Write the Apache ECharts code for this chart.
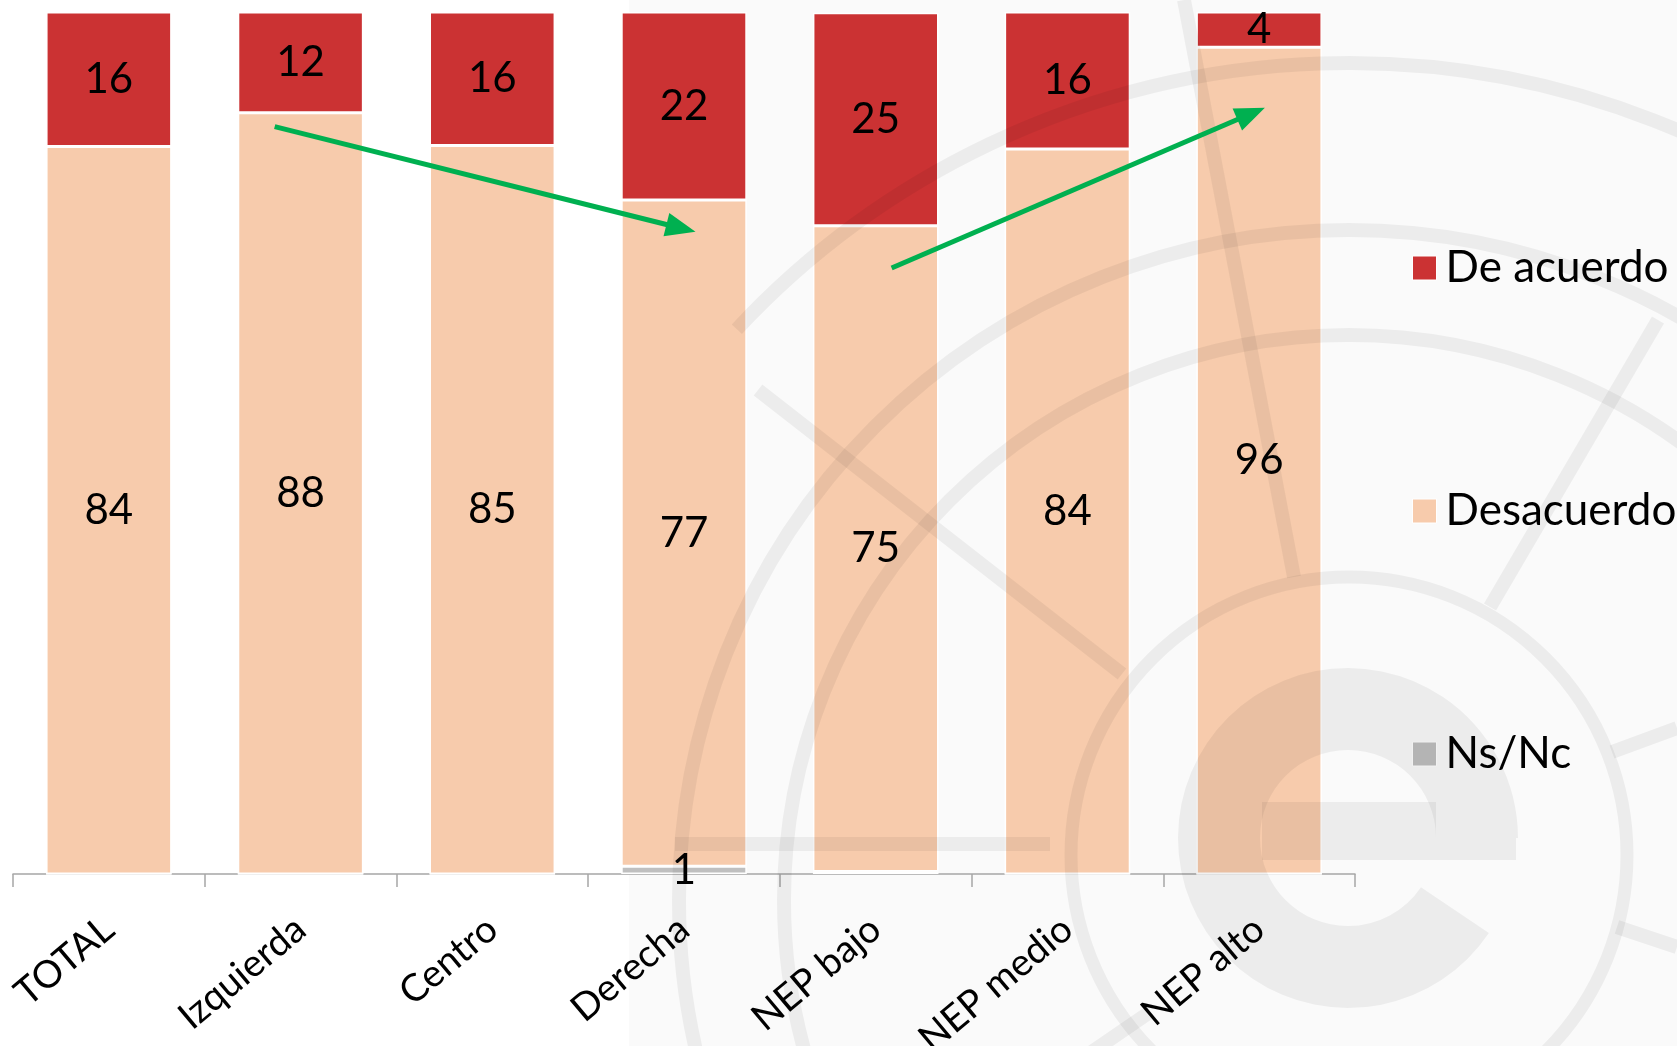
<!DOCTYPE html>
<html><head><meta charset="utf-8">
<script src="https://cdn.jsdelivr.net/npm/echarts@6/dist/echarts.min.js"></script>
<style>html,body{margin:0;padding:0;background:#fff}#c{width:1677px;height:1046px}</style>
</head><body><div id="c"></div>
<script>
// ---- data ----
const categories = ['TOTAL', 'Izquierda', 'Centro', 'Derecha', 'NEP bajo', 'NEP medio', 'NEP alto'];
const deAcuerdo  = [15.6, 11.7, 15.5, 21.8, 24.7, 15.9, 4.1];
const desacuerdo = [84.4, 88.3, 84.5, 77.3, 74.9, 84.1, 95.9];
const nsnc       = [0, 0, 0, 0.9, 0.3, 0, 0];
const seriesNames = ['De acuerdo', 'Desacuerdo', 'Ns/Nc'];
// annotation arrows: [from category index, from value, to category index, to value]
const arrow1 = [0.865, 86.7, 3.06, 74.5];
const arrow2 = [4.083, 70.3, 6.03, 88.9];

const COL_RED = '#CB3233', COL_PEACH = '#F7CBAC', COL_GRAY = '#BFBFBF';
const FONT = 'Lato';

const chart = echarts.init(document.getElementById('c'), null, {renderer: 'canvas'});

const labelCfg = {
  show: true, position: 'inside', color: '#000', fontFamily: FONT, fontSize: 42,
  formatter: p => (p.value >= 0.5 ? String(Math.round(p.value)) : '')
};
const barCommon = {
  type: 'bar', stack: 'total', barCategoryGap: '34.5%',
  itemStyle: {borderColor: '#ffffff', borderWidth: 1.5},
  label: labelCfg, emphasis: {disabled: true}
};

chart.setOption({
  animation: false,
  backgroundColor: '#ffffff',
  grid: {left: 13, right: 322, top: 12, bottom: 172, containLabel: false, outerBoundsMode: 'none'},
  legend: {
    orient: 'vertical', left: 1407, top: 238, itemWidth: 24, itemHeight: 24, itemGap: 193,
    icon: 'rect', data: seriesNames,
    itemStyle: {borderColor: '#fff', borderWidth: 1},
    textStyle: {fontFamily: FONT, fontSize: 44, color: '#000', lineHeight: 50, padding: [0, 0, 0, 4]}
  },
  xAxis: {
    type: 'category', data: categories,
    axisLine: {show: true, lineStyle: {color: '#a6a6a6', width: 1.5}},
    axisTick: {show: true, length: 13, lineStyle: {color: '#a6a6a6', width: 1.5}},
    axisLabel: {interval: 0, rotate: 40, margin: 50, color: '#000', fontFamily: FONT, fontSize: 38, hideOverlap: false}
  },
  yAxis: {type: 'value', min: 0, max: 100, show: false},
  series: [
    Object.assign({}, barCommon, {name: 'Ns/Nc', data: nsnc, itemStyle: Object.assign({}, barCommon.itemStyle, {color: COL_GRAY})}),
    Object.assign({}, barCommon, {name: 'Desacuerdo', data: desacuerdo, itemStyle: Object.assign({}, barCommon.itemStyle, {color: COL_PEACH})}),
    Object.assign({}, barCommon, {name: 'De acuerdo', data: deAcuerdo, itemStyle: Object.assign({}, barCommon.itemStyle, {color: COL_RED})})
  ]
});

// ---- convert annotation positions through the chart's own axes ----
function toPx(ci, v) {
  const p0 = chart.convertToPixel({gridIndex: 0}, [0, v]);
  const p1 = chart.convertToPixel({gridIndex: 0}, [1, v]);
  const step = p1[0] - p0[0];
  return [p0[0] + ci * step, p0[1]];
}
function arrowEls(a, color) {
  const s = toPx(a[0], a[1]), e = toPx(a[2], a[3]);
  const dx = e[0] - s[0], dy = e[1] - s[1];
  const len = Math.hypot(dx, dy), ux = dx / len, uy = dy / len;
  const headL = 30, headW = 12;
  const bx = e[0] - ux * headL, by = e[1] - uy * headL;
  return [
    {type: 'line', silent: true, z: 20, shape: {x1: s[0], y1: s[1], x2: bx + ux * 2, y2: by + uy * 2},
     style: {stroke: color, lineWidth: 5}},
    {type: 'polygon', silent: true, z: 20,
     shape: {points: [[e[0], e[1]], [bx - uy * headW, by + ux * headW], [bx + uy * headW, by - ux * headW]]},
     style: {fill: color}}
  ];
}

// ---- faint watermark logo ----
const wm = 'rgba(0,0,0,0.055)';
const deg = Math.PI / 180;
const cx = 1349, cy = 900;
const none = 'rgba(0,0,0,0)';
const ln = (x1, y1, x2, y2) => ({type: 'line', silent: true, z: 10, shape: {x1, y1, x2, y2}, style: {stroke: wm, lineWidth: 14}});
const watermark = [
  {type: 'rect', silent: true, z: -5, shape: {x: 629, y: 0, width: 1048, height: 1046}, style: {fill: '#fafafa'}},
  {type: 'arc', silent: true, z: 10, shape: {cx, cy, r: 837, startAngle: -137 * deg, endAngle: 40 * deg, clockwise: true}, style: {stroke: wm, lineWidth: 14, fill: none}},
  {type: 'circle', silent: true, z: 10, shape: {cx, cy, r: 670}, style: {stroke: wm, lineWidth: 14, fill: none}},
  {type: 'circle', silent: true, z: 10, shape: {cx, cy, r: 565}, style: {stroke: wm, lineWidth: 14, fill: none}},
  {type: 'circle', silent: true, z: 10, shape: {cx: 1349, cy: 855, r: 278}, style: {stroke: wm, lineWidth: 13, fill: none}},
  ln(758, 390, 1122, 674),
  ln(1184, 0, 1294, 577),
  ln(1658, 320, 1490, 607),
  ln(1612, 752, 1677, 728),
  ln(1617, 927, 1677, 947),
  ln(1150, 1012, 1080, 1060),
  ln(675, 844, 1050, 844),
  // letter "e"
  {type: 'sector', silent: true, z: 10, shape: {cx: 1348, cy: 838, r0: 88, r: 170, startAngle: 34 * deg, endAngle: 360 * deg, clockwise: true}, style: {fill: wm}},
  {type: 'rect', silent: true, z: 10, shape: {x: 1262, y: 802, width: 174, height: 58}, style: {fill: wm}},
  {type: 'rect', silent: true, z: 10, shape: {x: 1436, y: 838, width: 80, height: 22}, style: {fill: wm}}
];

chart.setOption({
  graphic: watermark.concat(arrowEls(arrow1, '#00B050'), arrowEls(arrow2, '#00B050'))
});
</script>
</body></html>
